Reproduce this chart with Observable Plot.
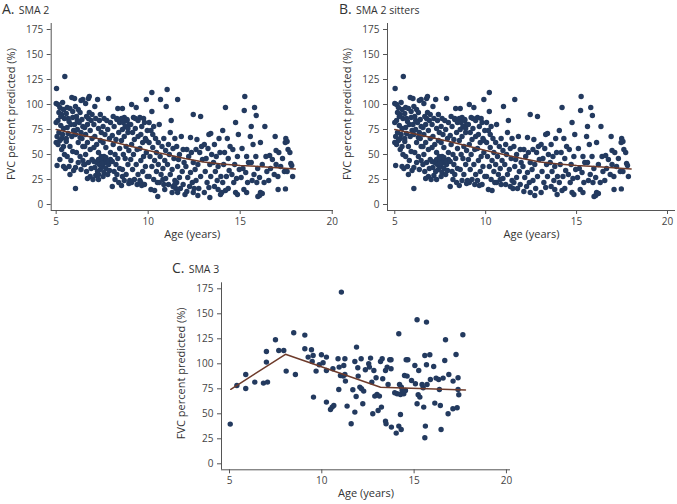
<!DOCTYPE html>
<html><head><meta charset="utf-8">
<script src="https://cdn.jsdelivr.net/npm/d3@7"></script>
<script src="https://cdn.jsdelivr.net/npm/@observablehq/plot@0.6"></script>
<style>
body{margin:0;background:#fff;font-family:"Open Sans",sans-serif;}
#root{position:relative;width:677px;height:504px;overflow:hidden;background:#fff}
.panel{position:absolute}
.title{position:absolute;color:#333;white-space:nowrap;line-height:1}
.title .l{font-size:14px}
.title .s{font-size:10.5px}
</style></head><body><div id="root"></div>
<script>
// ---------- data ----------
const xTicks = [5, 10, 15, 20];
const yTicks = [0, 25, 50, 75, 100, 125, 150, 175];
const yLabel = "FVC percent predicted (%)";
const xLabel = "Age (years)";
const titles = [["A.", "SMA 2"], ["B.", "SMA 2 sitters"], ["C.", "SMA 3"]];

// SMA 2 sitters (shown in A and B): [age, FVC %]
const sma2Sitters = [
[5.02,116],[5.0,101],[5.1,100],[5.35,102],[5.2,97],[5.4,95],[5.3,90],[5.45,86],[5.1,84],[5.0,82],[5.25,79],[5.4,76],[5.15,72],[5.35,70],[5.05,68],[5.3,66],[5.2,64],[5.0,62],[5.1,60],[5.4,58],[5.3,55],[5.45,50],[5.05,39],[5.4,38],[5.5,36],[5.47,128],[5.25,88],[5.15,92],
[5.85,107],[6.0,106],[5.6,97],[5.75,96],[5.55,91],[5.9,87],[5.7,83],[5.8,80],[5.6,77],[5.95,74],[5.65,71],[5.85,68],[5.55,63],[5.75,58],[5.9,53],[5.6,48],[5.8,44],[5.7,38],[5.95,34],[5.75,30],[5.65,86],[5.9,93],[5.55,66],
[6.05,98],[6.2,95],[6.3,92],[6.1,88],[6.4,85],[6.25,82],[6.0,80],[6.45,78],[6.15,75],[6.35,72],[6.05,70],[6.3,67],[6.2,62],[6.45,58],[6.1,52],[6.3,48],[6.45,44],[6.2,42],[6.05,37],[6.35,35],[6.05,16],[6.45,105],[6.35,104],[6.15,84],[6.4,66],
[6.75,106],[6.8,108],[6.6,101],[6.8,92],[6.95,90],[6.65,88],[6.9,84],[6.7,80],[6.55,77],[6.85,74],[6.6,70],[6.95,66],[6.7,62],[6.55,58],[6.85,55],[6.6,50],[6.95,45],[6.75,42],[6.55,40],[6.9,36],[6.65,33],[6.85,28],[6.7,26],[6.75,86],
[7.25,105],[7.1,98],[7.4,90],[7.15,86],[7.35,84],[7.05,80],[7.3,76],[7.45,72],[7.1,68],[7.4,64],[7.2,60],[7.05,57],[7.3,52],[7.45,48],[7.05,43],[7.2,42],[7.35,40],[7.1,37],[7.4,35],[7.25,33],[7.15,29],[7.3,25],[7.0,25],[7.45,44],[7.3,45],
[7.85,106],[7.6,86],[7.75,84],[7.95,82],[7.55,78],[7.8,75],[7.65,70],[7.9,66],[7.55,62],[7.7,57],[7.95,52],[7.6,48],[7.5,45],[7.75,44],[7.65,42],[7.85,40],[7.55,38],[7.7,36],[7.9,34],[7.6,32],[7.8,30],[7.55,28],[7.95,45],[7.5,41],[7.7,47],[7.85,43],
[8.35,96],[8.1,88],[8.3,85],[8.45,82],[8.15,78],[8.4,72],[8.05,69],[8.25,65],[8.1,60],[8.45,56],[8.2,50],[8.35,46],[8.05,43],[8.25,40],[8.45,36],[8.15,33],[8.3,30],[8.2,25],[8.4,22],[8.05,18],[8.3,86],
[8.6,96],[8.7,87],[8.55,86],[8.85,84],[8.65,82],[8.95,80],[8.75,78],[8.6,75],[8.9,72],[8.7,68],[8.55,64],[8.8,58],[8.95,54],[8.65,50],[8.75,46],[8.9,40],[8.6,35],[8.8,30],[8.7,24],[8.95,21],[8.55,19],[8.85,85],[8.9,76],
[9.1,100],[9.35,97],[9.2,87],[9.45,84],[9.05,80],[9.3,76],[9.15,72],[9.45,68],[9.25,65],[9.1,60],[9.4,55],[9.2,50],[9.05,45],[9.35,40],[9.15,35],[9.45,30],[9.25,25],[9.1,22],[9.4,20],[9.0,24],[9.3,86],
[9.9,105],[9.55,87],[9.8,82],[9.65,78],[9.95,74],[9.6,70],[9.85,66],[9.7,62],[9.55,56],[9.9,52],[9.75,48],[9.6,44],[9.85,38],[9.7,33],[9.95,28],[9.55,24],[9.8,20],[9.65,19],[9.75,86],[9.9,64],
[10.2,112],[10.2,93],[10.05,82],[10.3,78],[10.15,74],[10.4,66],[10.05,62],[10.25,57],[10.45,52],[10.1,48],[10.35,44],[10.2,38],[10.45,33],[10.05,28],[10.3,25],[10.15,15],[10.35,14],[10.5,22],[10.25,70],
[10.98,98],[10.6,80],[10.85,66],[10.55,62],[10.75,58],[10.95,54],[10.65,48],[10.9,44],[10.55,40],[10.8,36],[10.7,30],[10.95,26],[10.6,22],[10.85,20],[10.8,25],
[11.25,84],[11.2,72],[11.45,66],[11.1,60],[11.35,56],[11.15,50],[11.4,46],[11.05,40],[11.3,35],[11.2,30],[11.45,24],[11.1,20],[11.35,18],[11.5,16],
[11.6,105],[11.8,68],[11.55,58],[11.9,55],[11.7,50],[11.65,45],[11.95,42],[11.6,38],[11.85,33],[11.7,27],[11.55,22],[11.9,20],[11.75,16],
[12.45,90],[12.3,67],[12.1,55],[12.35,52],[12.2,48],[12.45,42],[12.05,38],[12.3,32],[12.15,27],[12.4,22],[12.25,18],[12.1,13],[12.45,12],
[12.85,88],[12.65,65],[12.9,58],[12.6,55],[12.8,52],[12.95,45],[12.7,40],[12.55,35],[12.85,28],[12.6,24],[12.75,16],[12.7,9],
[13.4,71],[13.3,70],[13.05,60],[13.25,56],[13.45,50],[13.15,46],[13.35,40],[13.1,33],[13.4,28],[13.2,22],[13.3,17],[13.05,12],
[13.85,66],[13.6,60],[13.9,52],[13.7,48],[13.55,42],[13.8,38],[13.65,33],[13.95,28],[13.75,24],[13.6,18],[13.8,15],[13.93,10],
[14.2,97],[14.05,74],[14.3,66],[14.45,58],[14.15,52],[14.35,46],[14.1,40],[14.4,34],[14.25,28],[14.05,22],[14.35,16],[14.2,14],
[14.75,82],[14.9,70],[14.6,55],[14.85,48],[14.7,40],[14.95,35],[14.55,30],[14.8,26],[14.65,22],[14.75,12],[14.85,10],
[15.25,108],[15.22,94],[15.1,56],[15.35,48],[15.45,42],[15.15,36],[15.3,32],[15.05,27],[15.4,22],[15.2,15],[15.35,12],
[15.78,97],[15.87,89],[15.6,78],[15.55,68],[15.7,60],[15.85,48],[15.6,42],[15.95,36],[15.75,30],[15.65,24],[15.9,22],[15.96,8],
[16.34,78],[16.1,62],[16.4,48],[16.2,40],[16.45,33],[16.05,27],[16.3,22],[16.1,12],[16.2,11],[16.05,9],
[16.9,68],[16.6,49],[16.75,45],[16.95,54],[16.65,36],[16.85,30],[16.55,24],[16.95,40],
[17.45,62],[17.1,52],[17.3,46],[17.2,38],[17.4,33],[17.05,28],[17.46,15.6],[17.06,15],
[17.48,66],[17.55,63],[17.7,52],[17.75,41],[17.8,39],[17.85,28],[17.6,55],[17.55,33]
];
// SMA 2 non-sitters (only in A)
const sma2NonSitters = [
[11.03,115],[10.67,105],[10.52,8],[13.35,7],[11.3,12],[11.6,12],[11.45,20],[12.0,10],[7.3,30],[6.5,40],[9.6,22],[8.6,28],[14.0,12],[12.5,16],[5.2,45],[10.9,15]
];
// SMA 3
const sma3 = [
[5.04,39.7],[5.4,78.3],[5.88,89.3],[5.88,75.3],[6.37,81.7],[6.84,80.7],[7.06,81.7],[7.0,101.7],[7.0,112.3],[7.49,124],
[7.67,113.3],[7.94,113.3],[8.07,92.7],[8.48,131],[8.57,89.3],[9.08,128.7],[9.08,115],[9.26,106.7],[9.44,114],[9.53,108.3],
[9.48,102.3],[9.55,66.7],[9.69,92.7],[9.86,99],[9.98,109],[10.07,101],[10.25,106.7],[10.25,93.3],[10.25,61.7],[10.47,54.3],
[10.56,56.7],[10.65,58.3],[10.6,95],[11.06,171.7],[10.88,105],[10.94,96.7],[10.92,74.3],[11.01,88.3],[11.16,87.7],[11.19,98.3],
[11.25,105],[11.25,89.3],[11.28,82.7],[11.37,57.7],[11.59,40],[11.68,74],[11.79,102.3],[11.79,51.7],[11.86,67.3],[11.88,116.7],
[11.95,96],[11.97,87.7],[12.06,76.7],[12.13,105],[12.15,75],[12.22,60],[12.27,72.7],[12.36,94],[12.54,100],[12.58,96.7],
[12.64,105.7],[12.71,81.7],[12.76,50],[12.82,93.3],[12.87,67.7],[12.94,86],[12.99,69.3],[13.05,53.3],[13.12,67.7],[13.18,102.3],
[13.23,56.7],[13.27,105],[13.3,85],[13.45,93.3],[13.45,42.7],[13.48,40],[13.54,96.7],[13.59,79.3],[13.68,104],[13.75,104],
[13.75,95],[13.77,36.7],[13.95,71],[14.03,30.7],[14.08,70],[14.17,130],[14.17,37.7],[14.21,79.3],[14.26,69.3],[14.26,49.3],
[14.3,34.3],[14.31,76.7],[14.35,73.3],[14.44,70],[14.48,88.3],[14.53,73.3],[14.57,104],[14.62,87.7],[14.66,104],[14.86,83.3],
[15.04,98.3],[15.07,80],[15.16,144],[15.16,60],[15.22,69],[15.25,93.3],[15.31,66.7],[15.43,79.3],[15.49,76],[15.52,56.7],
[15.58,108.3],[15.61,37.7],[15.58,26],[15.67,141.7],[15.67,99],[15.7,79.3],[15.85,109],[15.88,84.3],[16.06,97.3],[16.12,60.7],
[16.19,85.7],[16.33,84.3],[16.37,74.3],[16.42,58.3],[16.46,34.3],[16.57,85.7],[16.66,103.3],[16.7,124],[16.84,50],[16.88,89.3],
[17.1,55],[17.11,82.7],[17.27,109.3],[17.33,56],[17.38,86],[17.38,74.3],[17.42,69],[17.64,129]
];
// fitted lines
const fitSma2 = [[5,75],[6,71],[7,67],[8,63],[9,58.5],[10,54],[11,50],[12,46],[13,42.5],[14,40.5],[15,39],[16,38],[17,36.8],[18,35.5]];
const fitSma3 = [[5.07,74.5],[8.03,109.5],[13.18,76.5],[17.78,73.8]];

// ---------- drawing ----------
const dotColor = "#233a5f";
const lineColor = "#6e3b2b";
const axisColor = "#555";
const root = document.getElementById("root");

function panel({data, fit, left, top, width, height, ml, mr, mt, mb, xDom}) {
  const yDom = [-6, 181];
  const chart = Plot.plot({
    width, height, marginLeft: ml, marginRight: mr, marginTop: mt, marginBottom: mb,
    x: {domain: xDom}, y: {domain: yDom},
    style: {fontFamily: "'Open Sans', sans-serif", fontSize: "10px", color: "#444", background: "transparent", overflow: "visible"},
    marks: [
      Plot.ruleX([xDom[0]], {stroke: axisColor, strokeWidth: 1}),
      Plot.ruleY([yDom[0]], {stroke: axisColor, strokeWidth: 1}),
      Plot.axisX({ticks: xTicks, tickSize: 4, tickPadding: 3, label: null, stroke: axisColor, fill: "#444"}),
      Plot.axisY({ticks: yTicks, tickSize: 4, tickPadding: 4, label: null, stroke: axisColor, fill: "#444"}),
      Plot.dot(data, {x: d => d[0], y: d => d[1], r: 2.7, fill: dotColor, stroke: null}),
      Plot.line(fit, {x: d => d[0], y: d => d[1], stroke: lineColor, strokeWidth: 1.5}),
      Plot.text([yLabel], {text: d => d, frameAnchor: "left", textAnchor: "middle", rotate: -90, dx: -40, dy: -3, fontSize: 11, fill: "#333"}),
      Plot.text([xLabel], {text: d => d, frameAnchor: "bottom", textAnchor: "middle", dy: 27, fontSize: 11, fill: "#333"})
    ]
  });
  const wrap = document.createElement("div");
  wrap.className = "panel";
  wrap.style.left = left + "px";
  wrap.style.top = top + "px";
  wrap.appendChild(chart);
  root.appendChild(wrap);
}

panel({data: sma2Sitters.concat(sma2NonSitters), fit: fitSma2, left: 0, top: 0, width: 337, height: 250, ml: 50.7, mr: 4, mt: 23, mb: 40, xDom: [4.73, 20.07]});
panel({data: sma2Sitters, fit: fitSma2, left: 337, top: 0, width: 340, height: 250, ml: 50, mr: 2, mt: 23, mb: 40, xDom: [4.6, 20.44]});
panel({data: sma3, fit: fitSma3, left: 150, top: 230, width: 370, height: 274, ml: 71, mr: 10, mt: 52.3, mb: 34.7, xDom: [4.567, 20.22]});

const titlePos = [[2, 0], [339, 0], [172, 259]];
titles.forEach(([l, s], i) => {
  const t = document.createElement("div");
  t.className = "title";
  t.style.left = titlePos[i][0] + "px";
  t.style.top = titlePos[i][1] + "px";
  t.innerHTML = `<span class="l">${l}</span> <span class="s">${s}</span>`;
  root.appendChild(t);
});
</script>
</body></html>
